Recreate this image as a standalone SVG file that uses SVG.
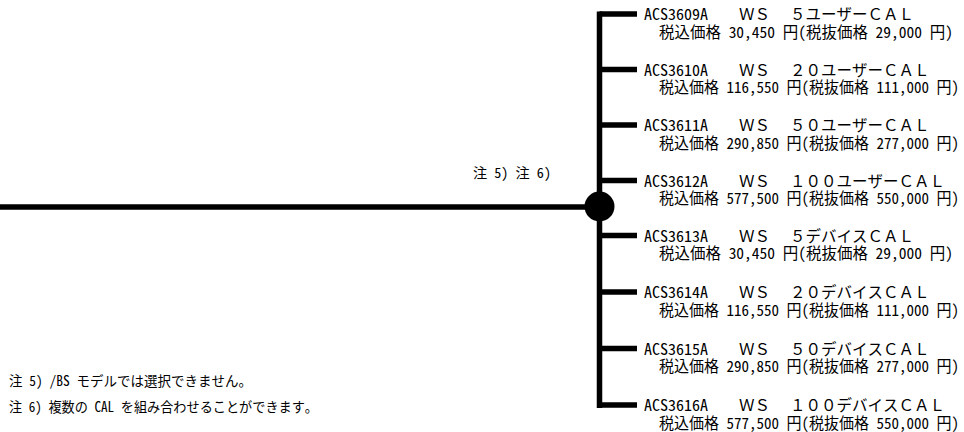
<svg xmlns="http://www.w3.org/2000/svg" width="964" height="432" viewBox="0 0 964 432">
<style>
text{font-family:"Noto Sans Mono CJK JP","Noto Sans CJK JP",sans-serif;fill:#000}
.t{font-size:15.5px}
.n{font-size:14px}
.ln{stroke:#000;stroke-width:5.5;fill:none;stroke-linecap:butt}
</style>
<rect width="964" height="432" fill="#fff"/>
<g id="connectors">
<path class="ln" d="M0 207H599"/>
<path class="ln" d="M599.5 11.5V408"/>
<path class="ln" d="M599.5 14H637M599.5 69.5H637M599.5 125H637M599.5 180.5H637M599.5 235.5H637M599.5 292H637M599.5 348.5H637M599.5 405H637"/>
</g>
<g id="junction"><circle cx="599.5" cy="206.5" r="15" fill="#000"/></g>
<g id="label-notes"><text class="n" x="473" y="178" textLength="78" lengthAdjust="spacingAndGlyphs">注 5) 注 6)</text></g>
<g id="ACS3609A" transform="translate(0,14)">
<text class="t" y="6"><tspan x="644" textLength="64" lengthAdjust="spacingAndGlyphs">ACS3609A</tspan><tspan x="739">ＷＳ</tspan><tspan x="790">５ユーザーＣＡＬ</tspan></text>
<text class="t" x="659" y="23.5" textLength="294" lengthAdjust="spacingAndGlyphs">税込価格 30,450 円(税抜価格 29,000 円)</text>
</g>
<g id="ACS3610A" transform="translate(0,69.5)">
<text class="t" y="6"><tspan x="644" textLength="64" lengthAdjust="spacingAndGlyphs">ACS3610A</tspan><tspan x="739">ＷＳ</tspan><tspan x="790">２０ユーザーＣＡＬ</tspan></text>
<text class="t" x="659" y="23.5" textLength="300" lengthAdjust="spacingAndGlyphs">税込価格 116,550 円(税抜価格 111,000 円)</text>
</g>
<g id="ACS3611A" transform="translate(0,125)">
<text class="t" y="6"><tspan x="644" textLength="64" lengthAdjust="spacingAndGlyphs">ACS3611A</tspan><tspan x="739">ＷＳ</tspan><tspan x="790">５０ユーザーＣＡＬ</tspan></text>
<text class="t" x="659" y="23.5" textLength="300" lengthAdjust="spacingAndGlyphs">税込価格 290,850 円(税抜価格 277,000 円)</text>
</g>
<g id="ACS3612A" transform="translate(0,180.5)">
<text class="t" y="6"><tspan x="644" textLength="64" lengthAdjust="spacingAndGlyphs">ACS3612A</tspan><tspan x="739">ＷＳ</tspan><tspan x="790">１００ユーザーＣＡＬ</tspan></text>
<text class="t" x="659" y="23.5" textLength="300" lengthAdjust="spacingAndGlyphs">税込価格 577,500 円(税抜価格 550,000 円)</text>
</g>
<g id="ACS3613A" transform="translate(0,235.5)">
<text class="t" y="6"><tspan x="644" textLength="64" lengthAdjust="spacingAndGlyphs">ACS3613A</tspan><tspan x="739">ＷＳ</tspan><tspan x="790">５デバイスＣＡＬ</tspan></text>
<text class="t" x="659" y="23.5" textLength="294" lengthAdjust="spacingAndGlyphs">税込価格 30,450 円(税抜価格 29,000 円)</text>
</g>
<g id="ACS3614A" transform="translate(0,292)">
<text class="t" y="6"><tspan x="644" textLength="64" lengthAdjust="spacingAndGlyphs">ACS3614A</tspan><tspan x="739">ＷＳ</tspan><tspan x="790">２０デバイスＣＡＬ</tspan></text>
<text class="t" x="659" y="23.5" textLength="300" lengthAdjust="spacingAndGlyphs">税込価格 116,550 円(税抜価格 111,000 円)</text>
</g>
<g id="ACS3615A" transform="translate(0,348.5)">
<text class="t" y="6"><tspan x="644" textLength="64" lengthAdjust="spacingAndGlyphs">ACS3615A</tspan><tspan x="739">ＷＳ</tspan><tspan x="790">５０デバイスＣＡＬ</tspan></text>
<text class="t" x="659" y="23.5" textLength="300" lengthAdjust="spacingAndGlyphs">税込価格 290,850 円(税抜価格 277,000 円)</text>
</g>
<g id="ACS3616A" transform="translate(0,405)">
<text class="t" y="6"><tspan x="644" textLength="64" lengthAdjust="spacingAndGlyphs">ACS3616A</tspan><tspan x="739">ＷＳ</tspan><tspan x="790">１００デバイスＣＡＬ</tspan></text>
<text class="t" x="659" y="23.5" textLength="300" lengthAdjust="spacingAndGlyphs">税込価格 577,500 円(税抜価格 550,000 円)</text>
</g>
<g id="notes">
<text class="n" x="9" y="386" textLength="243" lengthAdjust="spacingAndGlyphs">注 5) /BS モデルでは選択できません。</text>
<text class="n" x="9" y="412" textLength="309" lengthAdjust="spacingAndGlyphs">注 6) 複数の CAL を組み合わせることができます。</text>
</g>
</svg>
